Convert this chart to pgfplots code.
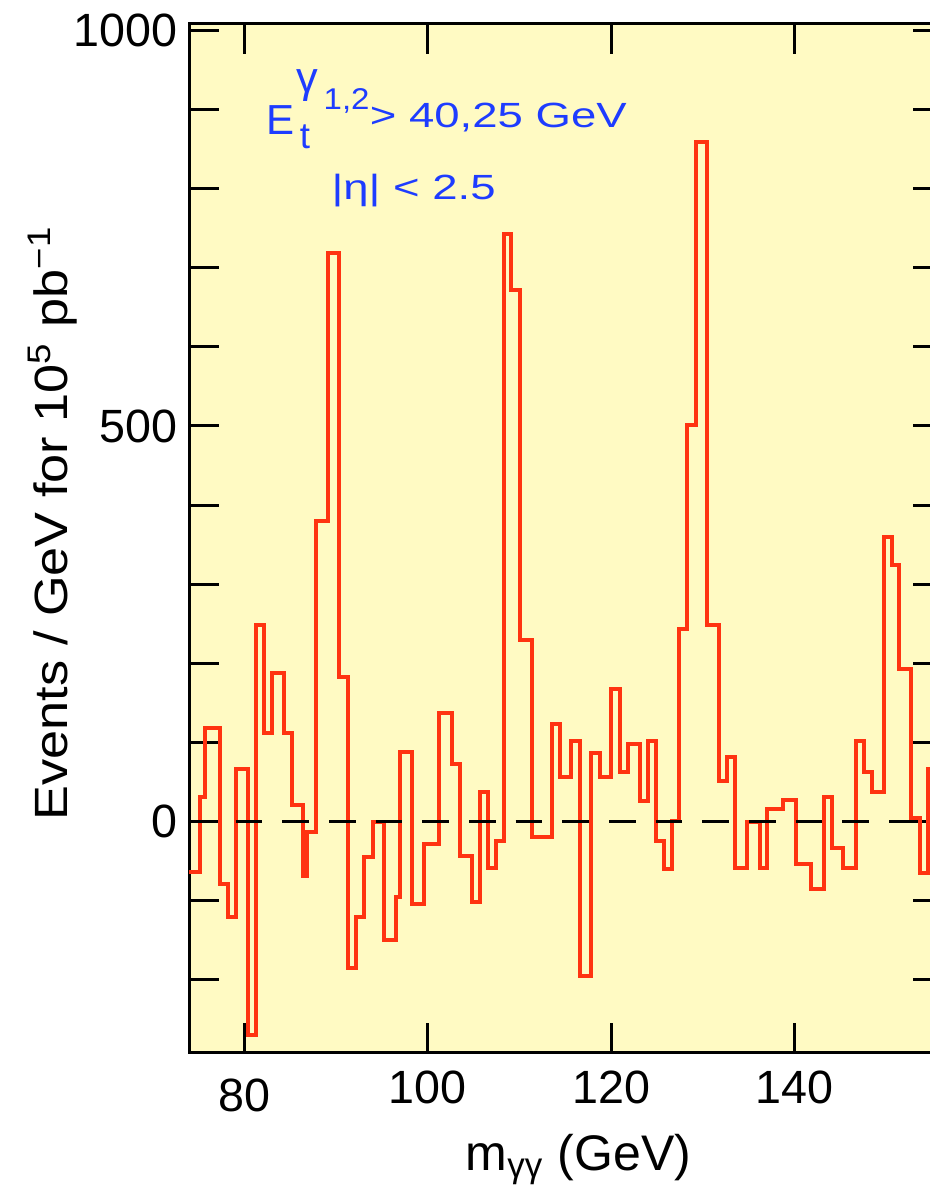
\documentclass[border=0pt]{standalone}
\usepackage{fontspec}
\setmainfont{Liberation Sans}
\usepackage{graphicx}
\usepackage{pgfplots}
\pgfplotsset{compat=1.18}
\definecolor{bgyellow}{HTML}{FFFAC3}
\definecolor{histred}{HTML}{FF3311}
\definecolor{annblue}{HTML}{1E3CFF}
\newcommand{\annfont}{\fontsize{10.5}{12}\selectfont}
\begin{document}
\begin{tikzpicture}
\begin{axis}[
  scale only axis,
  width=226.2pt, height=308.6pt,
  xmin=74, xmax=156.14,
  ymin=-292, ymax=1008,
  axis background/.style={fill=bgyellow},
  axis line style={line width=0.9pt},
  every tick/.style={black, line width=0.9pt},
  major tick length=9pt, minor tick length=9pt,
  tick align=inside,
  xtick={80,100,120,140},
  xticklabels={\raisebox{-2.2pt}[\height][\depth]{80},100,120,140},
  ytick={0,500,1000},
  yticklabels={0,500,1000},
  minor ytick={-200,-100,100,200,300,400,600,700,800,900},
  tick label style={font=\fontsize{14}{16}\selectfont},
  xticklabel style={yshift=-2pt},
  xlabel={m\textsubscript{γγ} (GeV)},
  xlabel style={font=\fontsize{15}{17}\selectfont, at={(axis description cs:0.5166,0)}, anchor=base, yshift=-35.2pt},
  ylabel={\scalebox{1.12}[1]{Events / GeV for 10\textsuperscript{5} pb\textsuperscript{−1}}},
  ylabel style={font=\fontsize{14}{16}\selectfont, at={(axis description cs:-0.1605,0.515)}, anchor=base, rotate=0},
]
\addplot[histred, line width=1.2pt, const plot mark left] coordinates {
(74,-64) (75.17,31.5) (75.7,117.8) (77.4,-78.6) (78.25,-120.6) (79.16,66.5)
(80.44,-270) (81.35,249) (82.18,111.5) (83.05,188) (84.3,112) (85.2,21)
(86.4,-69) (86.9,-13.4) (87.8,380) (89.1,718) (90.3,183) (91.27,-185)
(92.18,-120) (93.1,-45) (94.0,0) (95.2,-150) (96.55,-95.6) (97.0,87.5)
(98.3,-103.8) (99.56,-28.6) (101.27,137.5) (102.62,72.4) (103.53,-44)
(104.84,-101) (105.71,37) (106.6,-59) (107.45,-24) (108.33,743)
(109.09,672) (110.03,229) (111.35,-19) (113.56,122.8) (114.44,56)
(115.64,101.8) (116.54,-195.5) (117.82,87) (118.73,56) (120.0,168)
(120.9,62.3) (121.8,97.6) (123.1,26) (124.0,101.8) (124.84,-25)
(125.74,-60) (126.6,0.5) (127.37,244) (128.3,501.7) (129.2,858.7)
(130.43,249) (131.7,51.3) (132.6,82) (133.5,-59) (134.8,0) (136.2,-59)
(137.0,16.4) (138.7,27.4) (140.1,-53.8) (141.74,-85.3) (143.16,31.5)
(144.0,-33.6) (145.27,-59) (146.66,102.2) (147.53,62.3) (148.37,37)
(149.67,359.5) (150.54,324.7) (151.3,193) (152.67,5) (153.6,-65)
(154.45,67) (157,67)
};
\addplot[black, line width=1pt, dash pattern=on 8pt off 6pt] coordinates {(74,0) (156.14,0)};
\node[anchor=base west, inner sep=0pt, text=annblue, font=\fontsize{12.6}{14}\selectfont] at (axis cs:82.37,868) {E};
\node[anchor=base west, inner sep=0pt, text=annblue, font=\fontsize{11}{13}\selectfont] at (axis cs:86.0,851) {t};
\node[anchor=base west, inner sep=0pt, text=annblue, font=\fontsize{13}{15}\selectfont] at (axis cs:85.6,921) {γ};
\node[anchor=base west, inner sep=0pt, text=annblue, font=\fontsize{9}{11}\selectfont] at (axis cs:88.6,900) {\scalebox{1.1}[1]{1,2}};
\node[anchor=base west, inner sep=0pt, text=annblue] at (axis cs:93.64,876.6) {\scalebox{1.3}[1]{\annfont > 40,25 GeV}};
\node[anchor=base west, inner sep=0pt, text=annblue] at (axis cs:89.46,786) {\scalebox{1.3}[1]{\annfont |η| < 2.5}};
\end{axis}
\pgfresetboundingbox
\path[use as bounding box] ([xshift=-56.7pt,yshift=-44.5pt]current axis.south west) rectangle ([xshift=222pt,yshift=7.2pt]current axis.north west);
\end{tikzpicture}
\end{document}
